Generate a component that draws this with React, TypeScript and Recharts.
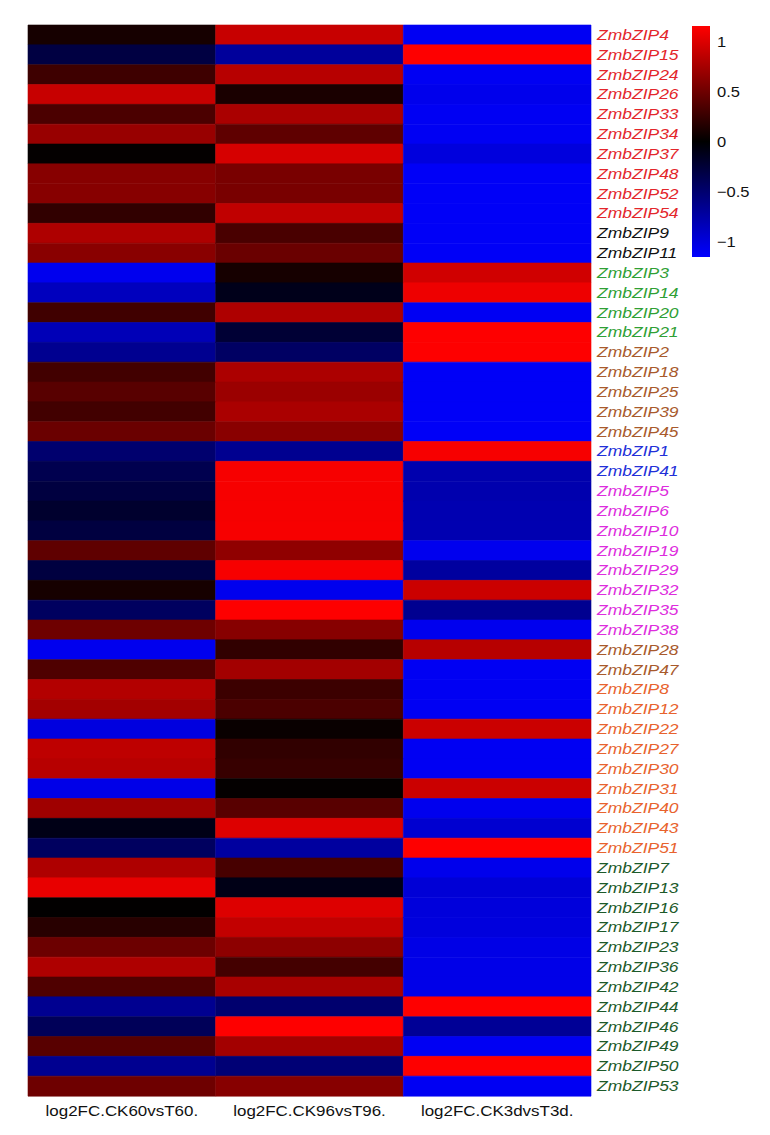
import React from "react";
import { BarChart, Bar, XAxis, YAxis, Cell } from "recharts";

const genes = [
  "ZmbZIP4", "ZmbZIP15", "ZmbZIP24", "ZmbZIP26", "ZmbZIP33", "ZmbZIP34", "ZmbZIP37", "ZmbZIP48", "ZmbZIP52", "ZmbZIP54",
  "ZmbZIP9", "ZmbZIP11", "ZmbZIP3", "ZmbZIP14", "ZmbZIP20", "ZmbZIP21", "ZmbZIP2", "ZmbZIP18", "ZmbZIP25", "ZmbZIP39",
  "ZmbZIP45", "ZmbZIP1", "ZmbZIP41", "ZmbZIP5", "ZmbZIP6", "ZmbZIP10", "ZmbZIP19", "ZmbZIP29", "ZmbZIP32", "ZmbZIP35",
  "ZmbZIP38", "ZmbZIP28", "ZmbZIP47", "ZmbZIP8", "ZmbZIP12", "ZmbZIP22", "ZmbZIP27", "ZmbZIP30", "ZmbZIP31", "ZmbZIP40",
  "ZmbZIP43", "ZmbZIP51", "ZmbZIP7", "ZmbZIP13", "ZmbZIP16", "ZmbZIP17", "ZmbZIP23", "ZmbZIP36", "ZmbZIP42", "ZmbZIP44",
  "ZmbZIP46", "ZmbZIP49", "ZmbZIP50", "ZmbZIP53",
];

// group index of each gene label (colour group)
const geneGroups = [
  0, 0, 0, 0, 0, 0, 0, 0, 0, 0,
  1, 1, 2, 2, 2, 2, 3, 3, 3, 3,
  3, 4, 4, 5, 5, 5, 5, 5, 5, 5,
  5, 3, 3, 6, 6, 6, 6, 6, 6, 6,
  6, 6, 7, 7, 7, 7, 7, 7, 7, 7,
  7, 7, 7, 7,
];

const groupColors = ["#e3262b", "#111111", "#2fa035", "#a85a2c", "#2230d8", "#dd2ddd", "#e8632e", "#1d5a2a"];

const columns = ["log2FC.CK60vsT60.", "log2FC.CK96vsT96.", "log2FC.CK3dvsT3d."];

const ck60 = [
  0.1, -0.3, 0.28, 0.9, 0.34, 0.69, 0.02, 0.61, 0.61, 0.22,
  0.79, 0.62, -1.08, -0.86, 0.29, -0.83, -0.65, 0.3, 0.4, 0.3,
  0.48, -0.5, -0.36, -0.29, -0.21, -0.29, 0.43, -0.29, 0.1, -0.43,
  0.5, -1.08, 0.36, 0.81, 0.74, -1.01, 0.86, 0.83, -1.05, 0.72,
  -0.1, -0.43, 0.79, 1.05, 0.01, 0.18, 0.49, 0.79, 0.36, -0.65,
  -0.4, 0.4, -0.65, 0.5,
];

const ck96 = [
  0.9, -0.7, 0.83, 0.12, 0.77, 0.43, 0.97, 0.55, 0.55, 0.87,
  0.33, 0.48, 0.1, -0.12, 0.79, -0.24, -0.45, 0.78, 0.7, 0.77,
  0.62, -0.65, 1.12, 1.12, 1.12, 1.12, 0.65, 1.12, -1.08, 1.15,
  0.61, 0.22, 0.74, 0.27, 0.34, 0.04, 0.22, 0.25, 0.02, 0.4,
  1.0, -0.72, 0.32, -0.1, 1.0, 0.88, 0.64, 0.31, 0.76, -0.5,
  1.15, 0.74, -0.53, 0.61,
];

const ck3d = [
  -1.1, 1.15, -1.1, -1.07, -1.1, -1.1, -1.0, -1.12, -1.12, -1.12,
  -1.12, -1.12, 0.94, 1.08, -1.1, 1.15, 1.15, -1.12, -1.12, -1.12,
  -1.12, 1.12, -0.79, -0.79, -0.8, -0.8, -1.08, -0.72, 0.92, -0.65,
  -1.08, 0.83, -1.1, -1.1, -1.1, 0.92, -1.1, -1.1, 0.92, -1.08,
  -0.94, 1.15, -1.07, -0.97, -0.99, -1.0, -1.04, -1.05, -1.05, 1.15,
  -0.68, -1.1, 1.15, -1.1,
];

const scaleTicks = [-1, -0.5, 0, 0.5, 1];
const scaleMax = 1.155;

const colorFor = (v: number) => {
  const t = Math.max(-1, Math.min(1, v / scaleMax));
  const c = Math.round(Math.abs(t) * 255);
  return t >= 0 ? `rgb(${c},0,0)` : `rgb(0,0,${c})`;
};

const table = genes.map((g, i) => ({ gene: g, a: 1, b: 1, c: 1, idx: i }));
const seriesValues = [ck60, ck96, ck3d];
const seriesKeys = ["a", "b", "c"];

const fontFamily = "'Liberation Sans', Arial, Helvetica, sans-serif";

const GeneTick = (props: any) => {
  const { x, y, payload, index } = props;
  const i = typeof index === "number" ? index : genes.indexOf(payload.value);
  return (
    <g transform={`translate(${x + 6},${y + 5})`}>
      <text
        transform="scale(1.25,1)"
        x={0}
        y={0}
        fontSize={14}
        fontStyle="italic"
        fontFamily={fontFamily}
        fill={groupColors[geneGroups[i]]}
        textAnchor="start"
      >
        {payload.value}
      </text>
    </g>
  );
};

const ColTick = (props: any) => {
  const { x, y, payload } = props;
  const label = columns[Math.floor(payload.value)];
  return (
    <g transform={`translate(${x},${y + 12})`}>
      <text transform="scale(1.13,1)" x={0} y={0} fontSize={15} fontFamily={fontFamily} fill="#111" textAnchor="middle">
        {label}
      </text>
    </g>
  );
};

const ScaleTick = (props: any) => {
  const { x, y, payload } = props;
  const v = payload.value as number;
  const s = v < 0 ? "\u2212" + String(Math.abs(v)) : String(v);
  return (
    <g transform={`translate(${x + 7},${y + 5})`}>
      <text transform="scale(1.1,1)" x={0} y={0} fontSize={15} fontFamily={fontFamily} fill="#111" textAnchor="start">
        {s}
      </text>
    </g>
  );
};

const scaleData = [{ name: "scale", range: [-scaleMax, scaleMax] }];

export default function App() {
  return (
    <div style={{ position: "relative", width: 754, height: 1125, background: "#fff" }}>
      <BarChart
        width={754}
        height={1125}
        data={table}
        layout="vertical"
        barCategoryGap={0}
        margin={{ top: 17, right: 0, left: 20, bottom: 7 }}
      >
        <XAxis
          type="number"
          domain={[0, 3]}
          ticks={[0.5, 1.5, 2.5]}
          axisLine={false}
          tickLine={false}
          height={30}
          tick={<ColTick />}
          interval={0}
        />
        <YAxis
          type="category"
          dataKey="gene"
          orientation="right"
          width={171}
          axisLine={false}
          tickLine={false}
          tickSize={0}
          tickMargin={0}
          interval={0}
          tick={<GeneTick />}
        />
        {seriesKeys.map((k, si) => (
          <Bar key={k} dataKey={k} stackId="s" isAnimationActive={false}>
            {table.map((row, i) => (
              <Cell
                key={i}
                fill={colorFor(seriesValues[si][i])}
                stroke={colorFor(seriesValues[si][i])}
                strokeWidth={0.6}
              />
            ))}
          </Bar>
        ))}
      </BarChart>
      <div style={{ position: "absolute", left: 684, top: 0 }}>
        <BarChart width={70} height={260} data={scaleData} barCategoryGap={0} margin={{ top: 18, right: 0, left: 0, bottom: 11 }}>
          <defs>
            <linearGradient id="cbGrad" x1="0" y1="0" x2="0" y2="1">
              <stop offset="0%" stopColor="#ff0000" />
              <stop offset="50%" stopColor="#000000" />
              <stop offset="100%" stopColor="#0000ff" />
            </linearGradient>
          </defs>
          <XAxis dataKey="name" type="category" hide />
          <YAxis
            type="number"
            orientation="right"
            domain={[-scaleMax, scaleMax]}
            ticks={scaleTicks}
            width={52}
            axisLine={false}
            tickLine={false}
            tickSize={0}
            tickMargin={0}
            tick={<ScaleTick />}
            interval={0}
          />
          <Bar dataKey="range" fill="url(#cbGrad)" isAnimationActive={false} />
        </BarChart>
      </div>
    </div>
  );
}
